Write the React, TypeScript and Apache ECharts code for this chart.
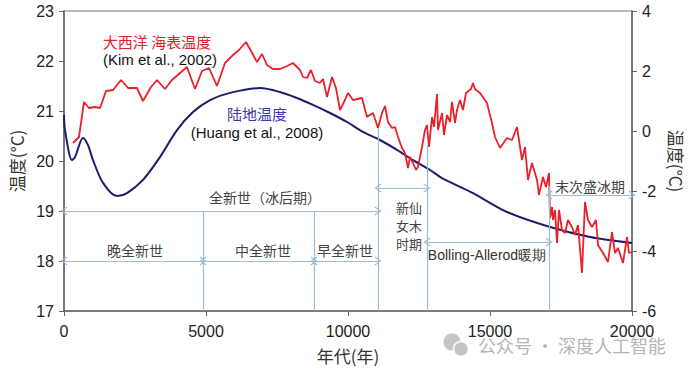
import React, { useEffect, useRef } from "react";
import * as echarts from "echarts";

// Atlantic SST (left axis, °C) — Kim et al., 2002
const seaYears = [317, 528, 704, 880, 1092, 1268, 1479, 1725, 2007, 2254, 2570, 2782, 3063, 3275, 3556, 3803, 4085, 4331, 4613, 4859, 5106, 5387, 5669, 5951, 6162, 6408, 6796, 6972, 7148, 7359, 7606, 7852, 8063, 8310, 8415, 8556, 8697, 8838, 9014, 9120, 9261, 9437, 9577, 9718, 9894, 10000, 10176, 10493, 10669, 10880, 11056, 11197, 11303, 11408, 11549, 11655, 11761, 11901, 12007, 12113, 12183, 12289, 12394, 12465, 12606, 12711, 12782, 12852, 12958, 13028, 13134, 13169, 13310, 13380, 13486, 13592, 13662, 13768, 13838, 13944, 14049, 14155, 14331, 14401, 14472, 14648, 14894, 15070, 15176, 15352, 15599, 15775, 15951, 16127, 16232, 16338, 16479, 16655, 16725, 16866, 16972, 17077, 17113, 17183, 17218, 17289, 17359, 17430, 17535, 17641, 17746, 17887, 17993, 18099, 18239, 18345, 18451, 18592, 18732, 18803, 18979, 19155, 19296, 19401, 19507, 19683, 19824, 19894, 20000];
const seaTemps = [20.36, 20.48, 21.18, 21.06, 21.08, 21.06, 21.4, 21.42, 21.62, 21.46, 21.46, 21.2, 21.48, 21.62, 21.44, 21.62, 21.76, 21.88, 21.44, 21.8, 21.86, 21.5, 21.96, 22.12, 22.22, 22.38, 21.98, 22.14, 21.92, 21.84, 21.84, 21.9, 21.96, 21.82, 21.68, 21.66, 21.82, 21.6, 21.56, 21.64, 21.28, 21.68, 21.46, 21.02, 21.22, 21.36, 21.22, 21.26, 20.88, 20.96, 20.66, 20.96, 21.1, 20.78, 20.66, 20.68, 20.48, 20.26, 20.16, 19.86, 20.08, 19.96, 19.82, 19.88, 20.28, 20.62, 20.72, 20.28, 20.88, 20.68, 21.34, 20.62, 20.96, 20.52, 20.92, 20.78, 21.18, 20.76, 21.02, 21.22, 21.02, 21.36, 21.44, 21.56, 21.44, 21.36, 21.16, 20.76, 20.48, 20.26, 20.46, 20.42, 20.68, 20.02, 20.28, 19.62, 19.96, 19.62, 19.32, 19.68, 19.48, 19.76, 18.86, 19.08, 18.82, 19.02, 18.36, 19.02, 18.62, 18.56, 18.82, 18.68, 18.52, 18.72, 17.76, 19.18, 18.82, 18.68, 18.82, 18.32, 18.16, 17.98, 18.58, 18.16, 18.26, 17.96, 18.48, 18.16, 18.18];

// Land temperature anomaly (right axis, °C) — Huang et al., 2008
const landYears = [0, 35, 282, 387, 669, 845, 1021, 1373, 1866, 2218, 2782, 3380, 3979, 4542, 5141, 5845, 6901, 7606, 8204, 8768, 9366, 9965, 10528, 11127, 11725, 12289, 12887, 13310, 14401, 15599, 17113, 18521, 20000];
const landTemps = [0.53, 0.03, -0.97, -0.87, -0.23, -0.47, -0.97, -1.73, -2.17, -2.07, -1.63, -0.87, 0.03, 0.63, 1.03, 1.27, 1.43, 1.3, 1.1, 0.87, 0.6, 0.3, -0.03, -0.3, -0.63, -0.97, -1.3, -1.57, -2.07, -2.7, -3.2, -3.53, -3.73];

// Period boundaries (years)
const bLateMid = 4894;
const bMidEarly = 8803;
const bHolYD = 11056;
const bYDBA = 12782;
const bBALGM = 17077;

const xTicks = [0, 5000, 10000, 15000, 20000];
const leftTicks = [17, 18, 19, 20, 21, 22, 23];
const rightTicks = [-6, -4, -2, 0, 2, 4];

const ANN = "#9dbdd6";
const CJK = '"Noto Sans CJK SC", sans-serif';
const LAT = '"Liberation Sans", Arial, sans-serif';
const CHEV = "path://M5,0 L10,9 L9,10 L5,3 L1,10 L0,9 Z";

function arrow(x1: number, x2: number, y: number) {
  return [
    { coord: [x1, y], symbol: CHEV },
    { coord: [x2, y], symbol: CHEV },
  ];
}
function vline(x: number, y1: number, y2: number) {
  return [
    { coord: [x, y1], symbol: "none" },
    { coord: [x, y2], symbol: "none" },
  ];
}

function txt(text: string, x: number, y: number, fill: string, font: string, lineHeight?: number) {
  return {
    type: "text",
    x,
    y,
    silent: true,
    style: { text, fill, font, lineHeight, align: "center", verticalAlign: "middle", textAlign: "center", textVerticalAlign: "middle" },
  };
}

export default function App() {
  const ref = useRef<HTMLDivElement>(null);
  useEffect(() => {
    const chart = echarts.init(ref.current!, null, { renderer: "svg" });
    const option: any = {
      animation: false,
      backgroundColor: "#ffffff",
      grid: { left: 64, right: 61, top: 11, bottom: 62, show: true, borderColor: "#777", borderWidth: 1.2 },
      xAxis: {
        type: "value",
        min: xTicks[0],
        max: xTicks[xTicks.length - 1],
        interval: 5000,
        name: "年代(年)",
        nameLocation: "middle",
        nameGap: 36,
        nameTextStyle: { fontFamily: CJK, fontSize: 17, color: "#333" },
        axisLine: { show: true, onZero: false, lineStyle: { color: "#666", width: 1.5 } },
        axisTick: { show: true, inside: false, length: 5, lineStyle: { color: "#666" } },
        axisLabel: { fontFamily: LAT, fontSize: 16, color: "#222", margin: 12, formatter: (v: number) => String(v) },
        splitLine: { show: false },
      },
      yAxis: [
        {
          type: "value",
          min: leftTicks[0],
          max: leftTicks[leftTicks.length - 1],
          interval: 1,
          name: "温度(°C)",
          nameLocation: "middle",
          nameGap: 37,
          nameRotate: 90,
          nameTextStyle: { fontFamily: CJK, fontSize: 17, color: "#333" },
          axisLine: { show: true, onZero: false, lineStyle: { color: "#666", width: 1.5 } },
          axisTick: { show: true, length: 5, lineStyle: { color: "#666" } },
          axisLabel: { fontFamily: LAT, fontSize: 16, color: "#222", margin: 10 },
          splitLine: { show: false },
        },
        {
          type: "value",
          position: "right",
          min: rightTicks[0],
          max: rightTicks[rightTicks.length - 1],
          interval: 2,
          name: "温度(°C)",
          nameLocation: "middle",
          nameGap: 36,
          nameRotate: -90,
          nameTextStyle: { fontFamily: CJK, fontSize: 17, color: "#333" },
          axisLine: { show: true, onZero: false, lineStyle: { color: "#666", width: 1.5 } },
          axisTick: { show: true, length: 5, lineStyle: { color: "#666" } },
          axisLabel: { fontFamily: LAT, fontSize: 16, color: "#222", margin: 10 },
          splitLine: { show: false },
        },
      ],
      series: [
        {
          type: "line",
          name: "land",
          yAxisIndex: 1,
          data: landYears.map((y, i) => [y, landTemps[i]]),
          smooth: 0.3,
          showSymbol: false,
          lineStyle: { color: "#1c1c6e", width: 2 },
          z: 3,
        },
        {
          type: "line",
          name: "sea",
          yAxisIndex: 0,
          data: seaYears.map((y, i) => [y, seaTemps[i]]),
          showSymbol: false,
          lineStyle: { color: "#e8212b", width: 1.8 },
          z: 4,
        },
        {
          type: "line",
          name: "ann",
          yAxisIndex: 0,
          data: [],
          z: 2,
          markLine: {
            silent: true,
            animation: false,
            symbolSize: [9, 7],
            label: { show: false },
            lineStyle: { color: ANN, width: 1.2, type: "solid" },
            data: [
              arrow(0, bHolYD, 19),
              arrow(0, bLateMid, 18),
              arrow(bLateMid, bMidEarly, 18),
              arrow(bMidEarly, bHolYD, 18),
              arrow(bHolYD, bYDBA, 19.46),
              arrow(bYDBA, bBALGM, 18.38),
              arrow(bBALGM, 20000, 19.32),
              vline(bLateMid, 17, 19),
              vline(bMidEarly, 17, 19),
              vline(bHolYD, 17, 20.66),
              vline(bYDBA, 17, 20.32),
              vline(bBALGM, 17, 19.5),
            ],
          },
        },
      ],
      graphic: [
        txt("大西洋 海表温度", 157, 41, "#e0202a", `15px ${CJK}`),
        txt("(Kim et al., 2002)", 160, 59, "#111", `15px ${LAT}`),
        txt("陆地温度", 257, 113, "#3a3aa8", `15px ${CJK}`),
        txt("(Huang et al., 2008)", 257, 132, "#111", `15px ${LAT}`),
        txt("全新世（冰后期）", 265, 197, "#444", `14px ${CJK}`),
        txt("晚全新世", 135, 250, "#444", `14px ${CJK}`),
        txt("中全新世", 263, 250, "#444", `14px ${CJK}`),
        txt("早全新世", 345, 250, "#444", `14px ${CJK}`),
        txt("新仙\n女木\n时期", 409, 225, "#444", `13px ${CJK}`, 18),
        txt("Bolling-Allerod暖期", 487, 255, "#333", `14px ${LAT}`),
        txt("末次盛冰期", 590, 186, "#444", `14px ${CJK}`),
        {
          type: "circle",
          shape: { cx: 452, cy: 342, r: 9 },
          style: { fill: "#c4c4c4", stroke: "#fff", lineWidth: 1 },
          silent: true,
        },
        {
          type: "circle",
          shape: { cx: 461, cy: 349, r: 7.5 },
          style: { fill: "#c4c4c4", stroke: "#fff", lineWidth: 1.5 },
          silent: true,
        },
        txt("公众号 · 深度人工智能", 572, 345, "#b5b5b5", `18px ${CJK}`),
      ],
    };
    chart.setOption(option);
    return () => chart.dispose();
  }, []);
  return <div ref={ref} style={{ position: "fixed", left: 0, top: 0, width: 693, height: 373 }} />;
}
